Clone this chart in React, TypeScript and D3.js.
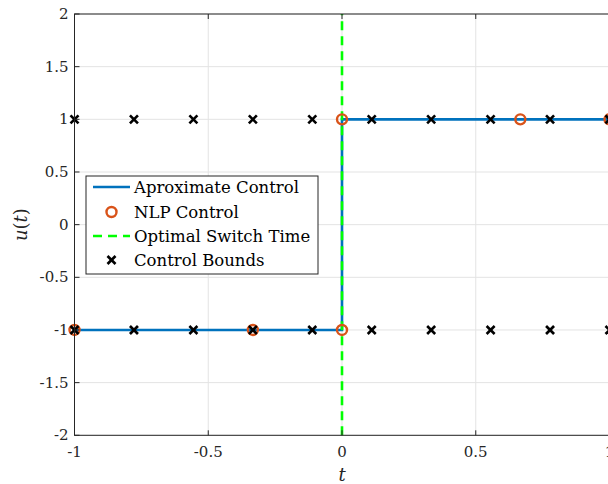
import React from "react";
import * as d3 from "d3";

const xTicks = [-1, -0.5, 0, 0.5, 1];
const yTicks = [-2, -1.5, -1, -0.5, 0, 0.5, 1, 1.5, 2];
const xTickLabels = ["-1", "-0.5", "0", "0.5", "1"];
const yTickLabels = ["-2", "-1.5", "-1", "-0.5", "0", "0.5", "1", "1.5", "2"];
const approxT = [-1, 0, 0, 1];
const approxU = [-1, -1, 1, 1];
const nlpT = [-1, -1 / 3, 0, 0, 2 / 3, 1];
const nlpU = [-1, -1, -1, 1, 1, 1];
const boundT = [-1, -7 / 9, -5 / 9, -3 / 9, -1 / 9, 1 / 9, 3 / 9, 5 / 9, 7 / 9, 1];
const switchTime = 0;
const legendLabels = ["Aproximate Control", "NLP Control", "Optimal Switch Time", "Control Bounds"];

const W = 608, H = 484;
const L = 74.5, R = 609.5, T = 14, B = 435.3;
const font = "'DejaVu Serif', 'Liberation Serif', serif";

function Cross({ x, y, s = 4 }: { x: number; y: number; s?: number }) {
  return (
    <g stroke="#000" strokeWidth={2.6}>
      <line x1={x - s} y1={y - s} x2={x + s} y2={y + s} />
      <line x1={x - s} y1={y + s} x2={x + s} y2={y - s} />
    </g>
  );
}

export default function App() {
  const x = d3.scaleLinear().domain([-1, 1]).range([L, R]);
  const y = d3.scaleLinear().domain([-2, 2]).range([B, T]);
  const line = d3.line<number>().x((_, i) => x(approxT[i])).y((d) => y(d));
  const lx = 86, ly = 176, lw = 232, lh = 98;
  const rows = [187, 212, 236, 260];
  return (
    <svg width={W} height={H} style={{ position: "absolute", left: 0, top: 0 }}>
      <rect width={W} height={H} fill="#fff" />
      {xTicks.map((t) => (
        <line key={"gx" + t} x1={x(t)} x2={x(t)} y1={T} y2={B} stroke="#e3e3e3" strokeWidth={1} />
      ))}
      {yTicks.map((t) => (
        <line key={"gy" + t} x1={L} x2={R} y1={y(t)} y2={y(t)} stroke="#e3e3e3" strokeWidth={1} />
      ))}
      <path d={line(approxU) || ""} fill="none" stroke="#0072bd" strokeWidth={2.6} />
      <line x1={x(switchTime)} x2={x(switchTime)} y1={y(-2)} y2={y(2)} stroke="#00ff00" strokeWidth={2.6} strokeDasharray="9 6" />
      {nlpT.map((t, i) => (
        <circle key={"c" + i} cx={x(t)} cy={y(nlpU[i])} r={5} fill="none" stroke="#d95319" strokeWidth={2.4} />
      ))}
      {boundT.map((t, i) => (
        <g key={"b" + i}>
          <Cross x={x(t)} y={y(1)} />
          <Cross x={x(t)} y={y(-1)} />
        </g>
      ))}
      <rect x={L} y={T} width={R - L} height={B - T} fill="none" stroke="#262626" strokeWidth={1} />
      {xTicks.map((t, i) => (
        <g key={"xt" + t}>
          <line x1={x(t)} x2={x(t)} y1={B} y2={B - 5} stroke="#262626" />
          <line x1={x(t)} x2={x(t)} y1={T} y2={T + 5} stroke="#262626" />
          <text x={x(t)} y={B + 22} textAnchor="middle" fontFamily={font} fontSize={15} fill="#262626">{xTickLabels[i]}</text>
        </g>
      ))}
      {yTicks.map((t, i) => (
        <g key={"yt" + t}>
          <line x1={L} x2={L + 5} y1={y(t)} y2={y(t)} stroke="#262626" />
          <text x={L - 6} y={y(t) + 5} textAnchor="end" fontFamily={font} fontSize={15} fill="#262626">{yTickLabels[i]}</text>
        </g>
      ))}
      <text x={x(0)} y={481} textAnchor="middle" fontFamily={font} fontStyle="italic" fontSize={18} fill="#262626">t</text>
      <text transform={`translate(27,${y(0)}) rotate(-90)`} textAnchor="middle" fontFamily={font} fontSize={18} fill="#262626">
        <tspan fontStyle="italic">u</tspan>(<tspan fontStyle="italic">t</tspan>)
      </text>
      <rect x={lx} y={ly} width={lw} height={lh} fill="#fff" stroke="#262626" strokeWidth={1} />
      <line x1={93} x2={130} y1={rows[0]} y2={rows[0]} stroke="#0072bd" strokeWidth={2.6} />
      <circle cx={111.5} cy={rows[1]} r={5} fill="none" stroke="#d95319" strokeWidth={2.4} />
      <line x1={93} x2={130} y1={rows[2]} y2={rows[2]} stroke="#00ff00" strokeWidth={2.6} strokeDasharray="9 6" />
      <Cross x={111.5} y={rows[3]} />
      {legendLabels.map((s, i) => (
        <text key={s} x={134} y={rows[i] + 5.5} fontFamily={font} fontSize={16.5} fill="#000">{s}</text>
      ))}
    </svg>
  );
}
